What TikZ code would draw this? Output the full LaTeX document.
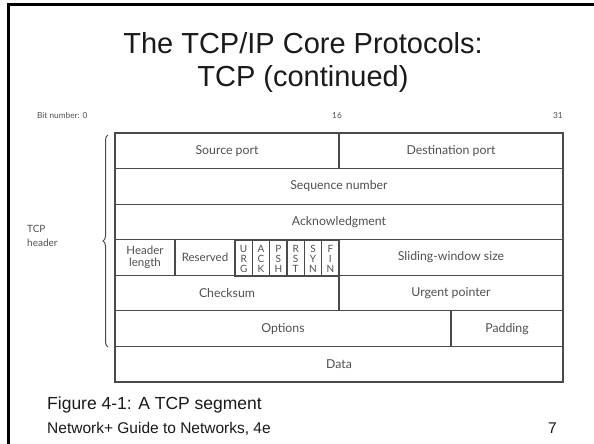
\documentclass[tikz,border=0pt]{standalone}
\usepackage{fontspec}
\setmainfont{Liberation Sans}
\newfontfamily\figfont{Lato}
\usetikzlibrary{decorations.pathreplacing}
\definecolor{linegray}{HTML}{4A4A4A}
\definecolor{textgray}{HTML}{505050}
\definecolor{inkblack}{HTML}{1A1A1A}
\tikzset{
  field/.style={draw=linegray, line width=1.2pt, minimum height=35.57pt,
    inner sep=0pt, text=textgray, font=\figfont\fontsize{12.3}{13}\selectfont, align=center},
  flag/.style={field, minimum width=17.33pt, font=\figfont\fontsize{10}{10}\selectfont},
  bitlabel/.style={text=textgray, font=\figfont\fontsize{8.3}{10}\selectfont, inner sep=0pt},
  slidetext/.style={text=inkblack, inner sep=0pt}
}
\begin{document}
\begin{tikzpicture}[x=1pt,y=-1pt]
% page area and slide frame
\fill[white] (0,0) rectangle (594,444);
\useasboundingbox (0,0) rectangle (594,444);
\draw[black, line width=2.4pt] (8.5,444) -- (8.5,4.5) -- (594,4.5);

% title
\node[slidetext, font=\fontsize{29}{34}\selectfont, anchor=base] (title1) at (303,53) {The TCP/IP Core Protocols:};
\node[slidetext, font=\fontsize{29}{34}\selectfont, anchor=base] (title2) at (303,86) {TCP (continued)};

% bit numbers
\node[bitlabel, anchor=base west] (bitnum) at (37,118) {Bit number: 0};
\node[bitlabel, anchor=base] (bit16) at (337,118) {16};
\node[bitlabel, anchor=base east] (bit31) at (563,118) {31};

% segment fields
\node[field, minimum width=224pt] (src) at (227,150.8) {Source port};
\node[field, minimum width=224pt] (dst) at (451,150.8) {Destination port};
\node[field, minimum width=448pt] (seq) at (339,186.4) {Sequence number};
\node[field, minimum width=448pt] (ack) at (339,221.9) {Acknowledgment};
\node[field, minimum width=60pt, font=\figfont\fontsize{11.5}{12.5}\selectfont] (hlen) at (145,257.5) {Header\\length};
\node[field, minimum width=60pt, font=\figfont\fontsize{11.5}{12.5}\selectfont] (resv) at (205,257.5) {Reserved};
\node[flag] (urg) at (243.67,258.5) {U\\R\\G};
\node[flag] (ackf) at (261,258.5) {A\\C\\K};
\node[flag] (psh) at (278.33,258.5) {P\\S\\H};
\node[flag] (rst) at (295.67,258.5) {R\\S\\T};
\node[flag] (syn) at (313,258.5) {S\\Y\\N};
\node[flag] (fin) at (330.33,258.5) {F\\I\\N};
\node[field, minimum width=224pt] (win) at (451,257.5) {Sliding-window size};
\node[field, minimum width=224pt] (csum) at (227,293.1) {Checksum};
\node[field, minimum width=224pt] (urgp) at (451,293.1) {Urgent pointer};
\node[field, minimum width=336pt] (opt) at (283,328.6) {Options};
\node[field, minimum width=112pt] (pad) at (507,328.6) {Padding};
\node[field, minimum width=448pt] (data) at (339,364.2) {Data};

% brace over the header rows
\coordinate (braceTop) at (108,135);
\coordinate (braceBot) at (108,347);
\draw[linegray, line width=1pt, decorate, decoration={brace, amplitude=5pt}] (braceBot) -- (braceTop);
\node[bitlabel, anchor=west, align=left, font=\figfont\fontsize{10}{14}\selectfont] (hdr) at (27,235.5) {TCP\\header};

% caption and footer
\node[slidetext, anchor=base west, font=\fontsize{17.5}{20}\selectfont] (cap) at (47,409) {Figure 4-1: A TCP segment};
\node[slidetext, anchor=base west, font=\fontsize{15.5}{18}\selectfont] (foot) at (47,433) {Network+ Guide to Networks, 4e};
\node[slidetext, anchor=base east, font=\fontsize{15.5}{18}\selectfont] (page) at (557,433) {7};
\end{tikzpicture}
\end{document}
